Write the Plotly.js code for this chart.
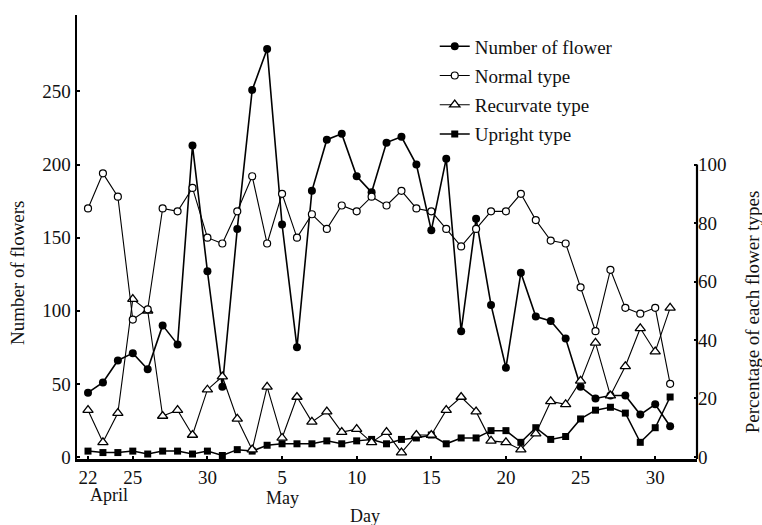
<!DOCTYPE html>
<html>
<head>
<meta charset="utf-8">
<script src="https://cdn.plot.ly/plotly-3.0.1.min.js"></script>
<style>
  html, body { margin: 0; padding: 0; background: #fff; }
  #chart { width: 762px; height: 525px; }
</style>
</head>
<body>
<div id="chart"></div>
<script>
// Days from 22 April to 31 May
const dates = ["04-22","04-23","04-24","04-25","04-26","04-27","04-28","04-29","04-30",
  "05-01","05-02","05-03","05-04","05-05","05-06","05-07","05-08","05-09","05-10",
  "05-11","05-12","05-13","05-14","05-15","05-16","05-17","05-18","05-19","05-20",
  "05-21","05-22","05-23","05-24","05-25","05-26","05-27","05-28","05-29","05-30","05-31"];

// Number of flowers (left axis)
const numberOfFlower = [44,51,66,71,60,90,77,213,127,48,156,251,279,159,75,182,217,221,192,181,
  215,219,200,155,204,86,163,104,61,126,96,93,81,48,40,42,42,29,36,21];

// Percentages (right axis)
const normalType = [85,97,89,47,50.5,85,84,92,75,73,84,96,73,90,75,83,78,86,84,89,
  86,91,85,84,78,72,78,84,84,90,81,74,73,58,43,64,51,49,51,25];
const recurvateType = [16,5,15,54,50,14,16,7.5,23,27.5,13,2.5,24,6.5,20.5,12,15.5,8.5,9.5,5,
  8.5,1.5,7.5,7.5,16,20.5,15.5,5.5,5,2.5,8,19,18,26,39,21,31,44,36,51];
const uprightType = [2,1.5,1.5,2,1,2,2,1,2,0.5,2.5,2,4,4.5,4.5,4.5,5.5,4.5,5.5,6,
  4.5,6,6.5,7.5,4.5,6.5,6.5,9,9,5,10,6,7,13,16,17,15,5,10,20.5];

// Tick labels
const xTickDates = ["04-22","04-25","04-30","05-05","05-10","05-15","05-20","05-25","05-30"];
const xTickText = ["22","25","30","5","10","15","20","25","30"];
const leftTicks = [0,50,100,150,200,250];
const rightTicks = [0,20,40,60,80,100];

const YEAR = "2000-";
const x = dates.map(d => YEAR + d);
const FONT = "Liberation Serif, DejaVu Serif, Times New Roman, serif";

const traces = [
  {
    name: "Number of flower", x: x, y: numberOfFlower, yaxis: "y",
    mode: "lines+markers", legendgroup: "a", legendrank: 1,
    line: {color: "#000", width: 1.6},
    marker: {symbol: "circle", size: 8, color: "#000"}
  },
  {
    name: "Upright type", x: x, y: uprightType, yaxis: "y2",
    mode: "lines+markers", legendgroup: "d", legendrank: 4,
    line: {color: "#000", width: 1.5},
    marker: {symbol: "square", size: 7, color: "#000"}
  },
  {
    name: "Recurvate type", x: x, y: recurvateType, yaxis: "y2",
    mode: "lines+markers", legendgroup: "c", legendrank: 3,
    line: {color: "#000", width: 1.1},
    marker: {symbol: "triangle-up", size: 9, color: "#fff", line: {color: "#000", width: 1.3}}
  },
  {
    name: "Normal type", x: x, y: normalType, yaxis: "y2",
    mode: "lines+markers", legendgroup: "b", legendrank: 2,
    line: {color: "#000", width: 1.1},
    marker: {symbol: "circle", size: 7, color: "#fff", line: {color: "#000", width: 1.2}}
  }
];

const layout = {
  width: 762, height: 525,
  margin: {l: 77, r: 65, t: 15, b: 66},
  paper_bgcolor: "#fff", plot_bgcolor: "#fff",
  font: {family: FONT, size: 19, color: "#111"},
  showlegend: true,
  legend: {
    x: 0.577, y: 0.972, xanchor: "left", yanchor: "top",
    bgcolor: "rgba(0,0,0,0)", traceorder: "grouped", tracegroupgap: 1.5,
    font: {family: FONT, size: 19, color: "#111"}, itemwidth: 30
  },
  xaxis: {
    type: "date",
    range: ["2000-04-21 06:18", "2000-06-01 19:12"],
    tickvals: xTickDates.map(d => YEAR + d), ticktext: xTickText,
    ticks: "inside", ticklen: 3, tickwidth: 2, tickcolor: "#000",
    showline: true, linecolor: "#000", linewidth: 2.5,
    showgrid: false, zeroline: false,
    tickfont: {family: FONT, size: 19, color: "#111"}
  },
  yaxis: {
    range: [-1.4, 302.3],
    tickvals: leftTicks,
    ticks: "inside", ticklen: 3, tickwidth: 2, tickcolor: "#000",
    showline: true, linecolor: "#000", linewidth: 2.5,
    showgrid: false, zeroline: false,
    tickfont: {family: FONT, size: 19, color: "#111"}
  },
  yaxis2: {
    overlaying: "y", side: "right",
    range: [-0.7, 151.15],
    tickvals: rightTicks,
    ticks: "inside", ticklen: 3, tickwidth: 2, tickcolor: "#000",
    showline: false, showgrid: false, zeroline: false,
    tickfont: {family: FONT, size: 19, color: "#111"}
  },
  shapes: [
    {type: "line", xref: "paper", yref: "y2", x0: 1, x1: 1, y0: -0.7, y1: 100,
     line: {color: "#000", width: 2.2}}
  ],
  annotations: [
    {text: "Number of flowers", xref: "paper", yref: "paper", x: -0.095, y: 0.419,
     textangle: -90, showarrow: false, xanchor: "center", yanchor: "middle",
     font: {family: FONT, size: 19, color: "#111"}},
    {text: "Percentage of each flower types", xref: "paper", yref: "paper", x: 1.089, y: 0.331,
     textangle: -90, showarrow: false, xanchor: "center", yanchor: "middle",
     font: {family: FONT, size: 19, color: "#111"}},
    {text: "April", xref: "paper", yref: "paper", x: 0.052, y: -0.081,
     showarrow: false, xanchor: "center", yanchor: "middle",
     font: {family: FONT, size: 18, color: "#111"}},
    {text: "May", xref: "paper", yref: "paper", x: 0.332, y: -0.088,
     showarrow: false, xanchor: "center", yanchor: "middle",
     font: {family: FONT, size: 18, color: "#111"}},
    {text: "Day", xref: "paper", yref: "paper", x: 0.465, y: -0.128,
     showarrow: false, xanchor: "center", yanchor: "middle",
     font: {family: FONT, size: 18, color: "#111"}}
  ]
};

Plotly.newPlot("chart", traces, layout, {displayModeBar: false, staticPlot: true});
</script>
</body>
</html>
